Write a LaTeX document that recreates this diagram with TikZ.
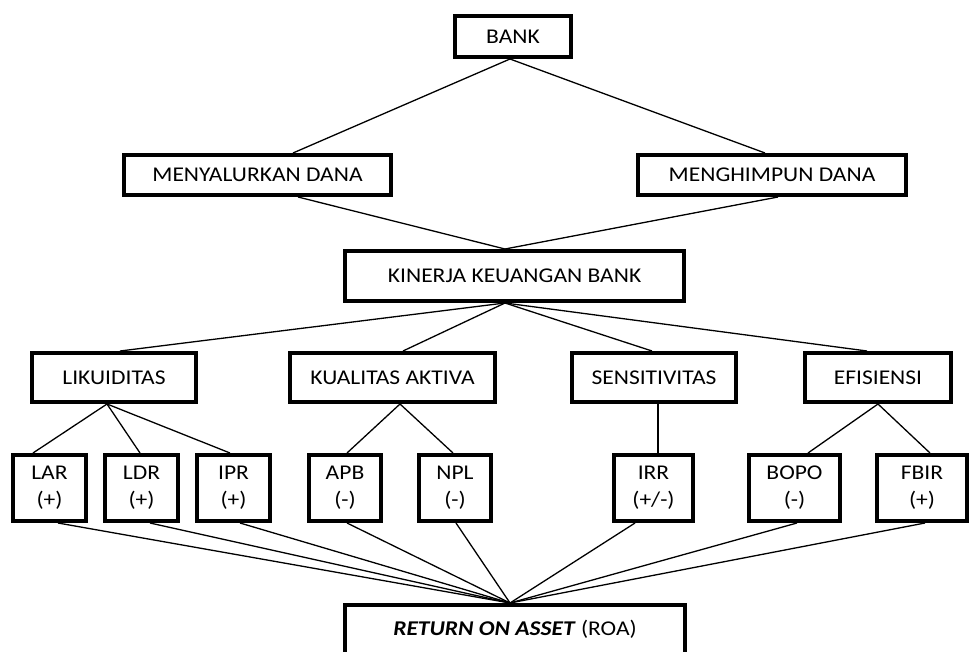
\documentclass[tikz,border=0pt]{standalone}
\usepackage{fontspec}
\setmainfont{Carlito}
\newcommand\wx[1]{\scalebox{1.12}[1]{#1}}
\begin{document}
\begin{tikzpicture}[x=1pt,y=-1pt,
  box/.style={draw, line width=4pt, inner sep=0pt, align=center,
    font=\fontsize{21}{27}\selectfont},
  small/.style={box, minimum height=66pt},
  mid/.style={box, minimum height=49pt},
  link/.style={line width=1.3pt}]
\useasboundingbox (0,0) rectangle (969,652);
\clip (0,0) rectangle (969,652);
\fill[white] (0,0) rectangle (969,652);

\node[box, minimum width=116pt, minimum height=41pt] (bank) at (513,36.5) {\wx{BANK}};
\node[box, minimum width=267pt, minimum height=40pt] (menya) at (257.5,175) {\wx{MENYALURKAN DANA}};
\node[box, minimum width=268pt, minimum height=40pt] (mengh) at (772,175) {\wx{MENGHIMPUN DANA}};
\node[box, minimum width=339pt, minimum height=50pt] (kin) at (514.5,276) {\wx{KINERJA KEUANGAN BANK}};

\node[mid, minimum width=164pt] (liku) at (114,377.5) {\wx{LIKUIDITAS}};
\node[mid, minimum width=205pt] (kual) at (392.5,377.5) {\wx{KUALITAS AKTIVA}};
\node[mid, minimum width=164pt] (sens) at (654,377.5) {\wx{SENSITIVITAS}};
\node[mid, minimum width=146pt] (efis) at (878,377.5) {\wx{EFISIENSI}};

\node[small, minimum width=73pt] (lar) at (49.5,488) {\wx{LAR}\\\wx{(+)}};
\node[small, minimum width=73pt] (ldr) at (141.5,488) {\wx{LDR}\\\wx{(+)}};
\node[small, minimum width=73pt] (ipr) at (233.5,488) {\wx{IPR}\\\wx{(+)}};
\node[small, minimum width=72pt] (apb) at (345,488) {\wx{APB}\\\wx{(-)}};
\node[small, minimum width=72pt] (npl) at (455,488) {\wx{NPL}\\\wx{(-)}};
\node[small, minimum width=79pt] (irr) at (653.5,488) {\wx{IRR}\\\wx{(+/-)}};
\node[small, minimum width=91pt] (bopo) at (794.5,488) {\wx{BOPO}\\\wx{(-)}};
\node[small, minimum width=90pt] (fbir) at (922,488) {\wx{FBIR}\\\wx{(+)}};

\node[box, anchor=north, minimum width=340pt, minimum height=64pt,
  text height=14pt, text depth=18pt] (roa) at (515,603)
  {\wx{\textbf{\textit{RETURN ON ASSET}} (ROA)}};

\draw[link] ([xshift=-3pt]bank.south) -- ([xshift=35.5pt]menya.north);
\draw[link] ([xshift=-3pt]bank.south) -- ([xshift=-7pt]mengh.north);
\draw[link] ([xshift=40.5pt]menya.south) -- ([xshift=-9.5pt]kin.north);
\draw[link] ([xshift=6pt]mengh.south) -- ([xshift=-9.5pt]kin.north);

\draw[link] ([xshift=-9.5pt]kin.south) -- ([xshift=6pt]liku.north);
\draw[link] ([xshift=-9.5pt]kin.south) -- ([xshift=10.5pt]kual.north);
\draw[link] ([xshift=-9.5pt]kin.south) -- ([xshift=-2pt]sens.north);
\draw[link] ([xshift=-9.5pt]kin.south) -- ([xshift=-11pt]efis.north);

\draw[link] ([xshift=-7pt]liku.south) -- ([xshift=-16.5pt]lar.north);
\draw[link] ([xshift=-7pt]liku.south) -- ([xshift=-1.5pt]ldr.north);
\draw[link] ([xshift=-7pt]liku.south) -- ([xshift=-3.5pt]ipr.north);
\draw[link] ([xshift=7.5pt]kual.south) -- ([xshift=2pt]apb.north);
\draw[link] ([xshift=7.5pt]kual.south) -- ([xshift=-2pt]npl.north);
\draw[link] ([xshift=4pt]sens.south) -- ([xshift=4.5pt]irr.north);
\draw[link] (efis.south) -- ([xshift=13.5pt]bopo.north);
\draw[link] (efis.south) -- ([xshift=8pt]fbir.north);

\foreach \n/\s in {lar/8.5, ldr/8.5, ipr/6.5, apb/2, npl/1, irr/-18.5, bopo/2.5, fbir/3}
  \draw[link] ([xshift=\s pt]\n.south) -- ([xshift=-5pt]roa.north);
\end{tikzpicture}
\end{document}
